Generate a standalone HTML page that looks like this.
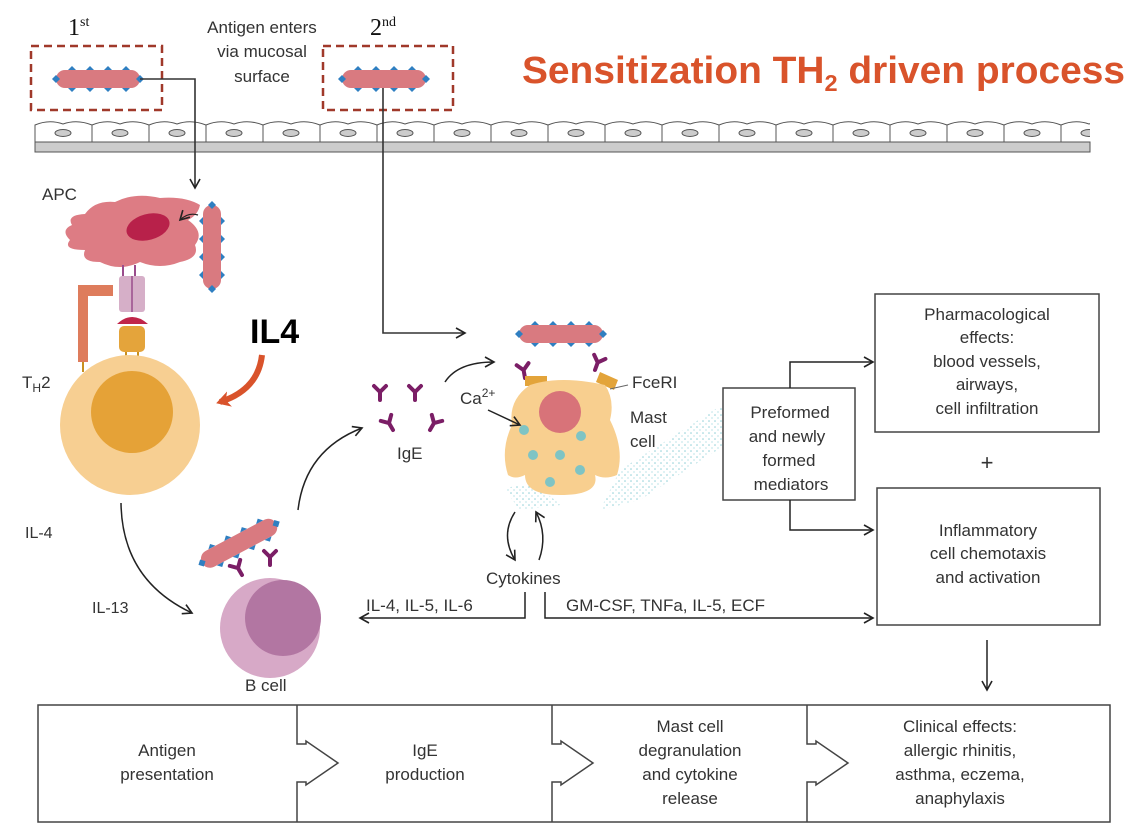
<!DOCTYPE html>
<html><head><meta charset="utf-8"><style>
html,body{margin:0;padding:0;background:#fff;}
svg{display:block;}
text{font-family:"Liberation Sans",Arial,sans-serif;fill:#333;}
</style></head><body>
<svg width="1140" height="836" viewBox="0 0 1140 836" xmlns="http://www.w3.org/2000/svg">
<defs>
<marker id="ah" markerWidth="12" markerHeight="12" refX="10" refY="6" orient="auto" markerUnits="userSpaceOnUse">
<path d="M1,1 L10,6 L1,11" fill="none" stroke="#222" stroke-width="1.6"/></marker>
<marker id="ao" markerWidth="20" markerHeight="20" refX="10" refY="10" orient="auto" markerUnits="userSpaceOnUse">
<path d="M0,2 L14,10 L0,18 L4,10 Z" fill="#d9532b"/></marker>
<g id="rod">
<rect x="0" y="-9" width="84" height="18" rx="9" fill="#d97a80"/>
<g fill="#2f7fc1">
<path d="M-4,0 l4,-4 l4,4 l-4,4z"/><path d="M80,0 l4,-4 l4,4 l-4,4z"/>
<path d="M12,-9 l4,-4 l4,4z"/><path d="M30,-9 l4,-4 l4,4z"/><path d="M48,-9 l4,-4 l4,4z"/><path d="M66,-9 l4,-4 l4,4z"/>
<path d="M12,9 l4,4 l4,-4z"/><path d="M30,9 l4,4 l4,-4z"/><path d="M48,9 l4,4 l4,-4z"/><path d="M66,9 l4,4 l4,-4z"/>
</g></g>
<g id="y"><path d="M0,0 V-8 L-6,-14 M0,-8 L6,-14" stroke="#7b1e66" stroke-width="4" fill="none" stroke-linecap="round"/></g>
<g id="cell"><path d="M0,7 Q14,1 28,6 Q42,1 57,7 V24 H0 Z" fill="#fff" stroke="#555" stroke-width="1"/><ellipse cx="28" cy="15" rx="8" ry="3.5" fill="#ccc" stroke="#555"/></g>
<pattern id="sp" width="6" height="6" patternUnits="userSpaceOnUse"><circle cx="1" cy="1" r="0.8" fill="#8fcfd6"/><circle cx="4" cy="4" r="0.6" fill="#8fcfd6"/></pattern>
</defs>

<text x="68" y="35" style="font-family:'Liberation Serif',serif;font-size:24px;fill:#111">1<tspan font-size="14" dy="-9">st</tspan></text>
<text x="370" y="35" style="font-family:'Liberation Serif',serif;font-size:24px;fill:#111">2<tspan font-size="14" dy="-9">nd</tspan></text>
<text x="262" y="33" font-size="17" text-anchor="middle">Antigen enters</text>
<text x="262" y="57" font-size="17" text-anchor="middle">via mucosal</text>
<text x="262" y="82" font-size="17" text-anchor="middle">surface</text>
<rect x="31" y="46" width="131" height="64" fill="none" stroke="#a0392a" stroke-width="2.5" stroke-dasharray="8,5"/>
<rect x="323" y="46" width="130" height="64" fill="none" stroke="#a0392a" stroke-width="2.5" stroke-dasharray="8,5"/>
<use href="#rod" x="56" y="79"/>
<use href="#rod" x="342" y="79"/>
<text x="522" y="83" font-size="38" font-weight="bold" style="fill:#d9532b" textLength="603" lengthAdjust="spacingAndGlyphs">Sensitization TH<tspan font-size="23" dy="8">2</tspan><tspan dy="-8"> driven process</tspan></text>

<g>
<use href="#cell" x="35" y="118"/><use href="#cell" x="92" y="118"/><use href="#cell" x="149" y="118"/><use href="#cell" x="206" y="118"/><use href="#cell" x="263" y="118"/><use href="#cell" x="320" y="118"/><use href="#cell" x="377" y="118"/><use href="#cell" x="434" y="118"/><use href="#cell" x="491" y="118"/><use href="#cell" x="548" y="118"/><use href="#cell" x="605" y="118"/><use href="#cell" x="662" y="118"/><use href="#cell" x="719" y="118"/><use href="#cell" x="776" y="118"/><use href="#cell" x="833" y="118"/><use href="#cell" x="890" y="118"/><use href="#cell" x="947" y="118"/><use href="#cell" x="1004" y="118"/><use href="#cell" x="1061" y="118"/>
<rect x="1090" y="110" width="60" height="50" fill="#fff"/>
<rect x="35" y="142" width="1055" height="10" fill="#ccc" stroke="#555"/>
</g>

<path d="M140,79 H195 V188" fill="none" stroke="#333" stroke-width="1.6" marker-end="url(#ah)"/>
<path d="M383,88 V333 H465" fill="none" stroke="#333" stroke-width="1.6" marker-end="url(#ah)"/>

<text x="42" y="200" font-size="17">APC</text>
<path d="M72,225 Q66,215 85,214 Q95,200 115,202 Q135,192 160,198 Q185,196 200,205 Q198,215 188,220 Q205,232 195,245 Q200,258 180,262 Q160,270 140,262 Q120,272 100,262 Q80,262 85,250 Q62,250 70,240 Q60,230 72,225Z" fill="#dd7c84"/>
<ellipse cx="148" cy="227" rx="22" ry="13" transform="rotate(-15 148 227)" fill="#b8214a"/>
<path d="M198,215 Q188,212 180,220" fill="none" stroke="#222" stroke-width="1.2" marker-end="url(#ah)"/>
<g transform="translate(212,247) rotate(90) translate(-42,0)"><use href="#rod"/></g>
<path d="M123,265 V278 M135,265 V278" stroke="#9a4c8c" stroke-width="2"/>
<rect x="119" y="276" width="26" height="36" rx="3" fill="#d6afc8"/>
<path d="M132,276 V312" stroke="#9a4c8c" stroke-width="1.5"/>
<path d="M117,324 Q132,310 148,324 Z" fill="#c0254a"/>
<rect x="119" y="326" width="26" height="26" rx="5" fill="#e4a43b"/>
<path d="M126,352 V362 M138,352 V362" stroke="#c8901f" stroke-width="2"/>
<path d="M78,285 H113 V296 H88 V362 H78 Z" fill="#de7c5c"/>
<path d="M83,362 V372" stroke="#c8901f" stroke-width="2"/>
<text x="22" y="388" font-size="17">T<tspan font-size="12" dy="4">H</tspan><tspan dy="-4">2</tspan></text>
<circle cx="130" cy="425" r="70" fill="#f7cf92"/>
<circle cx="132" cy="412" r="41" fill="#e5a237"/>
<text x="250" y="343" font-size="34" font-weight="bold" style="fill:#000">IL4</text>
<path d="M262,355 Q258,390 220,402" fill="none" stroke="#d9532b" stroke-width="6" marker-end="url(#ao)"/>

<text x="25" y="538" font-size="16">IL-4</text>
<text x="92" y="613" font-size="16">IL-13</text>
<path d="M121,503 Q122,580 192,613" fill="none" stroke="#222" stroke-width="1.5" marker-end="url(#ah)"/>

<circle cx="270" cy="628" r="50" fill="#d7a9c7"/>
<circle cx="283" cy="618" r="38" fill="#b276a2"/>
<g transform="translate(202,563) rotate(-28)"><use href="#rod"/></g>
<use href="#y" x="242" y="575" transform="rotate(-30 242 575)"/>
<use href="#y" x="270" y="565"/>
<text x="245" y="691" font-size="17">B cell</text>
<path d="M298,510 Q305,450 362,428" fill="none" stroke="#222" stroke-width="1.5" marker-end="url(#ah)"/>

<use href="#y" x="380" y="400"/><use href="#y" x="415" y="400"/><use href="#y" x="393" y="430" transform="rotate(-30 393 430)"/><use href="#y" x="430" y="430" transform="rotate(30 430 430)"/>
<text x="397" y="459" font-size="17">IgE</text>
<path d="M445,382 Q458,362 494,362" fill="none" stroke="#222" stroke-width="1.5" marker-end="url(#ah)"/>

<path d="M620,470 L722,405 L725,445 L640,500 L600,510 Z" fill="url(#sp)"/>
<path d="M505,490 Q530,475 560,505 L520,510Z" fill="url(#sp)"/>
<use href="#rod" x="519" y="334"/>
<use href="#y" x="525" y="378" transform="rotate(-10 525 378)"/>
<use href="#y" x="595" y="370" transform="rotate(20 595 370)"/>
<path d="M525,376 h22 v10 h-22z M600,372 l18,8 l-4,10 l-18,-8z" fill="#e3a43a"/>
<path d="M530,385 Q560,375 605,385 Q615,400 610,420 Q625,450 617,475 Q605,480 595,475 Q600,495 560,495 Q525,495 525,475 Q515,480 508,475 Q500,450 512,425 Q508,400 530,385Z" fill="#f8cf8f"/>
<circle cx="560" cy="412" r="21" fill="#d87379"/>
<g fill="#7fc4c4"><circle cx="524" cy="430" r="5"/><circle cx="533" cy="455" r="5"/><circle cx="560" cy="455" r="5"/><circle cx="580" cy="470" r="5"/><circle cx="550" cy="482" r="5"/><circle cx="581" cy="436" r="5"/></g>
<text x="460" y="404" font-size="17">Ca<tspan font-size="12" dy="-7">2+</tspan></text>
<path d="M488,410 L520,425" stroke="#222" stroke-width="1.5" marker-end="url(#ah)"/>
<text x="632" y="388" font-size="17">FceRI</text>
<path d="M610,389 L628,385" stroke="#666" stroke-width="1"/>
<text x="630" y="423" font-size="17">Mast</text>
<text x="630" y="447" font-size="17">cell</text>

<path d="M515,512 Q500,535 515,560" fill="none" stroke="#222" stroke-width="1.5" marker-end="url(#ah)"/>
<path d="M539,560 Q548,535 536,512" fill="none" stroke="#222" stroke-width="1.5" marker-end="url(#ah)"/>
<text x="486" y="584" font-size="17">Cytokines</text>
<path d="M525,592 V618 H360" fill="none" stroke="#222" stroke-width="1.5" marker-end="url(#ah)"/>
<text x="366" y="611" font-size="17">IL-4, IL-5, IL-6</text>
<path d="M545,592 V618 H873" fill="none" stroke="#222" stroke-width="1.5" marker-end="url(#ah)"/>
<text x="566" y="611" font-size="17">GM-CSF, TNFa, IL-5, ECF</text>

<rect x="723" y="388" width="132" height="112" fill="#fff" stroke="#444" stroke-width="1.5"/>
<g font-size="17" text-anchor="middle"><text x="790" y="418">Preformed</text><text x="787" y="442">and newly</text><text x="789" y="466">formed</text><text x="791" y="490">mediators</text></g>
<path d="M790,388 V362 H873" fill="none" stroke="#222" stroke-width="1.5" marker-end="url(#ah)"/>
<path d="M790,500 V530 H873" fill="none" stroke="#222" stroke-width="1.5" marker-end="url(#ah)"/>
<rect x="875" y="294" width="224" height="138" fill="#fff" stroke="#444" stroke-width="1.5"/>
<g font-size="17" text-anchor="middle"><text x="987" y="320">Pharmacological</text><text x="987" y="343">effects:</text><text x="987" y="367">blood vessels,</text><text x="987" y="390">airways,</text><text x="987" y="414">cell infiltration</text></g>
<text x="987" y="470" font-size="22" text-anchor="middle">+</text>
<rect x="877" y="488" width="223" height="137" fill="#fff" stroke="#444" stroke-width="1.5"/>
<g font-size="17" text-anchor="middle"><text x="988" y="536">Inflammatory</text><text x="988" y="559">cell chemotaxis</text><text x="988" y="583">and activation</text></g>
<path d="M987,640 V690" stroke="#222" stroke-width="1.5" marker-end="url(#ah)"/>

<rect x="38" y="705" width="1072" height="117" fill="#fff" stroke="#444" stroke-width="1.5"/>
<g fill="#fff" stroke="#444" stroke-width="1.5">
<path d="M297,705 V744 H306 V741 L338,763 L306,785 V782 H297 V822"/>
<path d="M552,705 V744 H561 V741 L593,763 L561,785 V782 H552 V822"/>
<path d="M807,705 V744 H816 V741 L848,763 L816,785 V782 H807 V822"/>
</g>
<g font-size="17" text-anchor="middle">
<text x="167" y="756">Antigen</text><text x="167" y="780">presentation</text>
<text x="425" y="756">IgE</text><text x="425" y="780">production</text>
<text x="690" y="732">Mast cell</text><text x="690" y="756">degranulation</text><text x="690" y="780">and cytokine</text><text x="690" y="804">release</text>
<text x="960" y="732">Clinical effects:</text><text x="960" y="756">allergic rhinitis,</text><text x="960" y="780">asthma, eczema,</text><text x="960" y="804">anaphylaxis</text>
</g>
</svg>
</body></html>
